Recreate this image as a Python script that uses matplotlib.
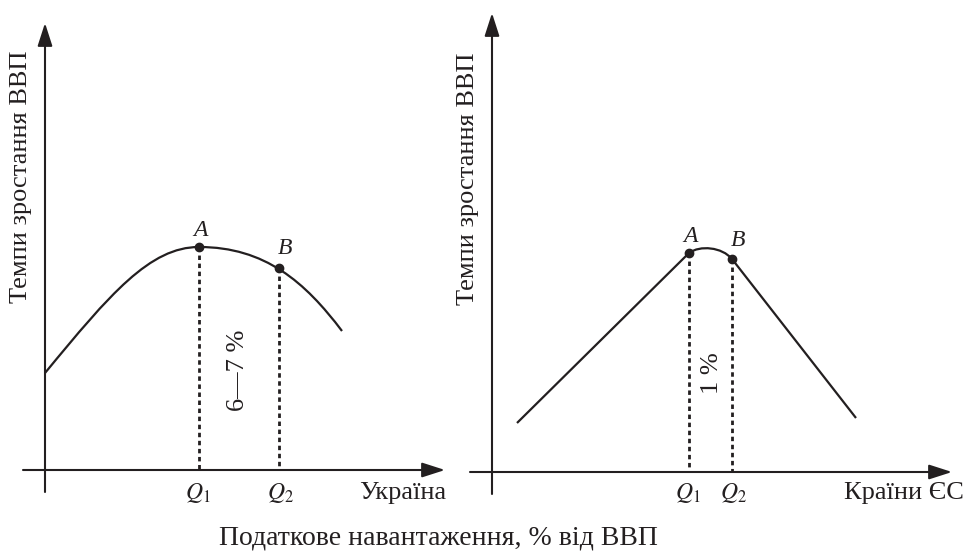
import numpy as np
import matplotlib
matplotlib.use("Agg")
from matplotlib import pyplot as plt
from matplotlib.path import Path
from matplotlib.patches import PathPatch

plt.rcParams['font.family'] = ['Liberation Serif', 'DejaVu Serif']
plt.rcParams['mathtext.fontset'] = 'stix'

ink = "#231f20"

# left panel: Україна, smooth curve as bezier control points (start -> A -> end)
ua_ctrl_x = [0.0, 6.5, 10.5, 15.4, 22.0, 26.0, 29.7]
ua_ctrl_y = [9.7, 17.6, 22.3, 22.3, 22.3, 18.8, 13.9]
ua_A = (15.4, 22.3)
ua_B = (23.4, 20.2)
ua_gap = "6—7 %"

# right panel: Країни ЄС, straight line, short arc A->B, straight line
eu_ctrl_x = [2.5, 19.7, 20.8, 23.0, 24.0, 36.4]
eu_ctrl_y = [4.9, 21.9, 22.7, 22.5, 21.3, 5.4]
eu_A = (19.7, 21.9)
eu_B = (24.0, 21.3)
eu_gap = "1 %"

ylabel = "Темпи зростання ВВП"
xlabel = "Податкове навантаження, % від ВВП"

fig = plt.figure(figsize=(9.72, 5.56), dpi=100)

def px_axes(left, right, top, bottom):
    return fig.add_axes([left / 972, 1 - bottom / 556, (right - left) / 972, (bottom - top) / 556])

def arrow(ax, start, tip):
    ax.annotate("", xy=tip, xytext=start,
                arrowprops=dict(arrowstyle="-|>,head_length=1.4,head_width=0.45",
                                mutation_scale=10, lw=1.5, color=ink,
                                shrinkA=0, shrinkB=0))

def draw_path(ax, verts, codes):
    ax.add_patch(PathPatch(Path(verts, codes), fill=False, edgecolor=ink, lw=1.6))

def panel(ax, A, B, gap, gap_pos, name, name_x, x_end, y_end, q_y):
    ax.set_axis_off()
    arrow(ax, (-2.2, 0), (x_end, 0))
    arrow(ax, (0, -2.2), (0, y_end))
    for p in (A, B):
        ax.plot([p[0], p[0]], [p[1], 0], color=ink, lw=2.0, ls=(0, (1.6, 1.3)))
        ax.plot(p[0], p[1], "o", color=ink, ms=6)
    ax.text(A[0] + 0.1, A[1] + 1.7, "A", style="italic", fontsize=17, color=ink, ha="center", va="center")
    ax.text(B[0] + 0.6, B[1] + 1.9, "B", style="italic", fontsize=17, color=ink, ha="center", va="center")
    ax.text(A[0] - 0.1, q_y, "$Q_{1}$", fontsize=17, color=ink, ha="center", va="center")
    ax.text(B[0] + 0.1, q_y, "$Q_{2}$", fontsize=17, color=ink, ha="center", va="center")
    ax.text(name_x, q_y, name, fontsize=19, color=ink, ha="center", va="center")
    ax.text(gap_pos[0], gap_pos[1], gap, rotation=90, fontsize=19, color=ink, ha="center", va="center")
    ax.text(-2.4, 29.3, ylabel, rotation=90, fontsize=19, color=ink, ha="center", va="center")

ax1 = px_axes(20, 450, 20, 495)
ax1.set_xlim(-2.5, 40.5)
ax1.set_ylim(-2.5, 45)
draw_path(ax1, list(zip(ua_ctrl_x, ua_ctrl_y)),
          [Path.MOVETO] + [Path.CURVE4] * 6)
panel(ax1, ua_A, ua_B, ua_gap, (19.3, 10.0), "Україна", 35.8, 40.0, 44.7, -2.3)

ax2 = px_axes(462, 957, 7, 497)
ax2.set_xlim(-3, 46.5)
ax2.set_ylim(-2.5, 46.5)
draw_path(ax2, list(zip(eu_ctrl_x, eu_ctrl_y)),
          [Path.MOVETO, Path.LINETO, Path.CURVE4, Path.CURVE4, Path.CURVE4, Path.LINETO])
panel(ax2, eu_A, eu_B, eu_gap, (22.0, 9.9), "Країни ЄС", 41.2, 46.0, 45.9, -2.1)

fig.text(438 / 972, 1 - 538 / 556, xlabel, fontsize=20, color=ink, ha="center", va="center")

fig.savefig("out.png", dpi=100)
